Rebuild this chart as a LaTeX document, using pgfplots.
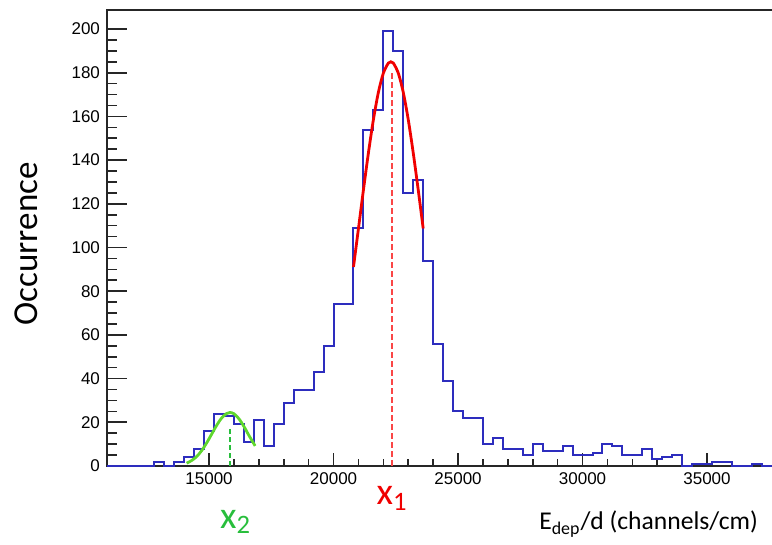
\documentclass[border=0pt]{standalone}
\usepackage{fontspec}
\setmainfont{Carlito}
\newfontfamily\helv{Liberation Sans}
\usepackage{pgfplots}
\usepackage{pgfplotstable}
\pgfplotsset{compat=1.18}

\definecolor{histblue}{RGB}{45,45,190}
\definecolor{fitred}{RGB}{240,0,0}
\definecolor{dashred}{RGB}{250,70,70}
\definecolor{fitgreen}{RGB}{95,215,45}
\definecolor{labgreen}{RGB}{40,190,60}

% histogram: left bin edge, counts (bin width 400)
\pgfplotstableread{
x y
10900 0
12800 2
13200 0
13600 2
14000 4
14400 8
14800 16
15200 24
15600 23
16000 19
16400 11
16800 21
17200 9
17600 19
18000 29
18400 35
18800 35
19200 43
19600 55
20000 74
20400 74
20800 109
21200 154
21600 163
22000 199
22400 190
22800 125
23200 131
23600 94
24000 56
24400 39
24800 25
25200 22
25600 22
26000 10
26400 13
26800 8
27200 8
27600 5
28000 10
28400 7
28800 7
29200 9
29600 5
30000 5
30400 6
30800 10
31200 9
31600 5
32000 5
32400 8
32800 3
33200 4
33600 5
34000 0
34400 1
34800 1
35200 2
35600 2
36000 0
36400 0
36800 1
37200 0
37730 0
}\histdata

\begin{document}
\begin{tikzpicture}
\begin{axis}[
  scale only axis,
  width=334pt, height=228pt,
  xmin=10900, xmax=37730,
  ymin=0, ymax=208.7,
  xtick={15000,20000,25000,30000,35000},
  ytick={0,20,...,200},
  minor x tick num=4,
  minor y tick num=3,
  tick pos=left,
  tick align=inside,
  xtick style={/pgfplots/major tick length=6.5pt, /pgfplots/minor tick length=3.3pt},
  ytick style={/pgfplots/major tick length=10pt, /pgfplots/minor tick length=5pt},
  scaled x ticks=false,
  scaled y ticks=false,
  /pgf/number format/1000 sep={},
  /pgf/number format/assume math mode=true,
  tick label style={font=\helv\fontsize{8.5}{10}\selectfont},
  axis line style={black!85, line width=0.9pt},
  every tick/.append style={black!85, line width=0.8pt},
  ylabel={Occurrence},
  ylabel style={at={(rel axis cs:0,0.487)}, anchor=center, yshift=40.5pt, font=\fontsize{17.5}{20}\selectfont},
  xlabel={E\textsubscript{dep}/d (channels/cm)},
  xlabel style={at={(rel axis cs:0.985,0)}, anchor=base east, yshift=-32pt, font=\fontsize{12.8}{15}\selectfont},
  clip=false,
]
\addplot[histblue, line width=1pt, const plot] table {\histdata};

\addplot[color=dashred, line width=1pt, dash pattern=on 3pt off 1.5pt] table {
x y
22330 0
22330 180
};
\addplot[color=labgreen, line width=0.8pt, dash pattern=on 2.5pt off 1.5pt] table {
x y
15840 0
15840 18
};

% fitted gaussians
\addplot[fitred, line width=1.4pt, smooth] coordinates {
(20800,91.1) (21000,108.7) (21200,126.4) (21400,143.3) (21600,158.5)
(21800,171.0) (22000,179.8) (22200,184.4) (22300,185) (22400,184.4)
(22600,179.8) (22800,171.0) (23000,158.5) (23200,143.3) (23400,126.4)
(23600,108.7)};
\addplot[fitgreen, line width=1.4pt, smooth] coordinates {
(14100,1.3) (14300,2.5) (14500,4.3) (14700,7.0) (14900,10.5)
(15100,14.5) (15300,18.5) (15500,21.9) (15700,24.0) (15840,24.5)
(16000,23.9) (16200,21.6) (16400,18.1) (16600,14.0) (16850,9.2)};

\node[anchor=base, text=fitred, font=\fontsize{19}{22}\selectfont] at (axis cs:22350,-17.8) {x\textsubscript{1}};
\node[anchor=base, text=labgreen, font=\fontsize{19}{22}\selectfont] at (axis cs:16065,-28.4) {x\textsubscript{2}};
\end{axis}
\pgfresetboundingbox
\path ([shift={(-53.5pt,-39.5pt)}]current axis.south west) rectangle ([shift={(-1.5pt,5pt)}]current axis.north east);
\end{tikzpicture}
\end{document}
